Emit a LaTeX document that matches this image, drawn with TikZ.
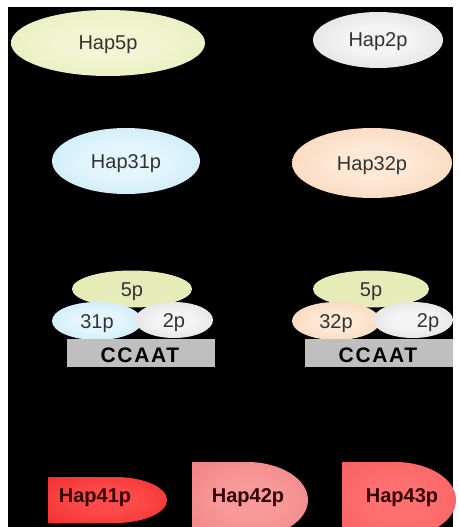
\documentclass[tikz,border=0pt]{standalone}
\usepackage{fontspec}
\setmainfont{Liberation Sans}
\usetikzlibrary{shapes.geometric}

% soft radial fill whose rim fades towards black
\pgfdeclareradialshading[glowin,glowmid,glowout]{softglow}{\pgfpoint{0bp}{0bp}}{%
  color(0bp)=(glowin); color(12bp)=(glowin); color(36bp)=(glowmid);
  color(45bp)=(glowout); color(50bp)=(glowout!55!black); color(100bp)=(black)}

\definecolor{yin}{HTML}{F2F5D2}\definecolor{ymid}{HTML}{E6ECB8}\definecolor{yout}{HTML}{C8D48E}
\definecolor{gin}{HTML}{F4F4F4}\definecolor{gmid}{HTML}{DCDCDC}\definecolor{gout}{HTML}{9A9A9A}
\definecolor{bin}{HTML}{E4F6FC}\definecolor{bmid}{HTML}{C4E8F6}\definecolor{bout}{HTML}{88C6E2}
\definecolor{oin}{HTML}{FDE8D6}\definecolor{omid}{HTML}{F9D2B2}\definecolor{oout}{HTML}{E8A070}
\definecolor{r1in}{HTML}{FF4A4A}\definecolor{r1mid}{HTML}{F03030}\definecolor{r1out}{HTML}{B81010}
\definecolor{r2in}{HTML}{F89A9A}\definecolor{r2mid}{HTML}{F08282}\definecolor{r2out}{HTML}{C05858}
\definecolor{r3in}{HTML}{FF7070}\definecolor{r3mid}{HTML}{F86060}\definecolor{r3out}{HTML}{C04444}

\tikzset{
  glowfill/.style n args={3}{/utils/exec={\colorlet{glowin}{#1}\colorlet{glowmid}{#2}\colorlet{glowout}{#3}}, shading=softglow},
  blob/.style={ellipse, inner sep=0pt, text=black!80, font=\fontsize{20}{22}\selectfont,
    text height=14pt, text depth=0pt},
  tag/.style={inner sep=0pt, font=\fontsize{20}{22}\selectfont\bfseries, text=red!20!black,
    text height=14pt, text depth=0pt},
  boxfill/.style={fill=black!25},
  boxtext/.style={inner sep=0pt, text=black, font=\fontsize{21}{23}\selectfont\bfseries\addfontfeature{LetterSpace=8},
    text height=15pt, text depth=0pt},
}

\begin{document}
\begin{tikzpicture}[x=1pt, y=-1pt]
\clip (0,0) rectangle (458,527);
\fill[white] (0,0) rectangle (458,527);
\fill[black] (8,7) rectangle (453,527);

% free subunits
\node[blob, minimum width=194pt, minimum height=66pt, glowfill={yin}{ymid}{yout}] (hap5) at (108,43) {Hap5p};
\node[blob, minimum width=130pt, minimum height=56pt, glowfill={gin}{gmid}{gout}] (hap2) at (378,40) {Hap2p};
\node[blob, minimum width=148pt, minimum height=66pt, glowfill={bin}{bmid}{bout}] (hap31) at (126,161) {Hap31p};
\node[blob, minimum width=160pt, minimum height=70pt, glowfill={oin}{omid}{oout}] (hap32) at (372,163) {Hap32p};

% Hap31p complex on its CCAAT box
\node[blob, minimum width=120pt, minimum height=37pt, glowfill={ymid}{ymid}{yout}] (c5a) at (132,289) {5p};
\node[blob, minimum width=90pt, minimum height=38pt, glowfill={bin}{bmid}{bout}] (c31) at (97,321) {31p};
\node[blob, minimum width=78pt, minimum height=36pt, glowfill={gin}{gmid}{gout}] (c2a) at (174,320) {2p};
\node[boxfill, minimum width=148pt, minimum height=28pt, inner sep=0pt] (boxa) at (141,353) {};
\node[boxtext] (cca) at (140,355) {CCAAT};

% Hap32p complex on its CCAAT box
\node[blob, minimum width=116pt, minimum height=37pt, glowfill={ymid}{ymid}{yout}] (c5b) at (371,289) {5p};
\node[blob, minimum width=88pt, minimum height=38pt, glowfill={oin}{omid}{oout}] (c32) at (336,321) {32p};
\node[blob, minimum width=80pt, minimum height=36pt, glowfill={gin}{gmid}{gout},
      label={[blob, xshift=15pt]center:2p}] (c2b) at (413,320) {};
\node[boxfill, minimum width=148pt, minimum height=28pt, inner sep=0pt] (boxb) at (379,353) {};
\node[boxtext] (ccb) at (378,355) {CCAAT};

% Hap4 variants: flat left side, rounded right end
\shade[glowfill={r1in}{r1mid}{r1out}]
  (48,477) -- (115,477) arc[start angle=90, end angle=-90, x radius=52pt, y radius=23pt] -- (48,523) -- cycle;
\node[tag] (h41) at (95,495) {Hap41p};

\shade[glowfill={r2in}{r2mid}{r2out}]
  (192,462) -- (247,462) arc[start angle=90, end angle=-90, x radius=61pt, y radius=38pt] -- (192,538) -- cycle;
\node[tag] (h42) at (248,495) {Hap42p};

\shade[glowfill={r3in}{r3mid}{r3out}]
  (342,462) -- (395,462) arc[start angle=90, end angle=-90, x radius=61pt, y radius=38pt] -- (342,538) -- cycle;
\node[tag] (h43) at (402,495) {Hap43p};
\end{tikzpicture}
\end{document}
